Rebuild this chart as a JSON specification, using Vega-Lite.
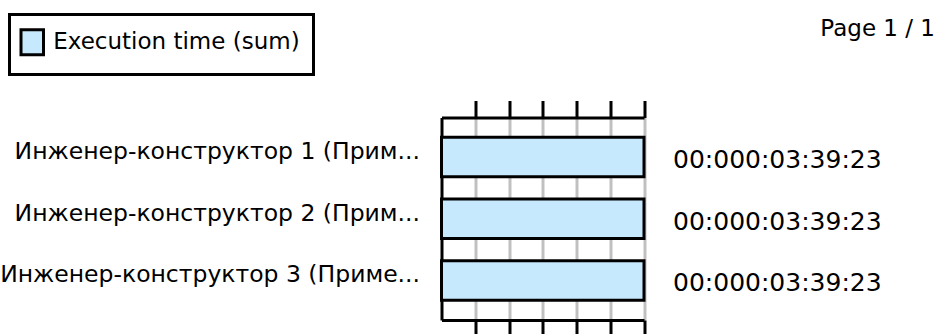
{
  "$schema": "https://vega.github.io/schema/vega-lite/v6.json",
  "width": 202.5,
  "height": 202.5,
  "autosize": "none",
  "padding": {"left": 441.5, "top": 117.5, "right": 299, "bottom": 14},
  "background": "white",
  "title": {
    "text": "Page 1 / 1",
    "anchor": "end",
    "frame": "group",
    "font": "DejaVu Sans",
    "fontSize": 23,
    "fontWeight": "normal",
    "color": "black",
    "dx": 291,
    "dy": 32
  },
  "config": {
    "view": {"stroke": null},
    "font": "DejaVu Sans",
    "legend": {"strokeWidth": 3}
  },
  "data": {
    "values": [
      {"engineer": "Инженер-конструктор 1 (Прим...", "seconds": 219.23, "label": "00:000:03:39:23", "series": "Execution time (sum)"},
      {"engineer": "Инженер-конструктор 2 (Прим...", "seconds": 219.23, "label": "00:000:03:39:23", "series": "Execution time (sum)"},
      {"engineer": "Инженер-конструктор 3 (Приме...", "seconds": 219.23, "label": "00:000:03:39:23", "series": "Execution time (sum)"}
    ]
  },
  "encoding": {
    "y": {
      "field": "engineer",
      "type": "nominal",
      "sort": null,
      "scale": {"paddingInner": 0.36, "paddingOuter": 0.32},
      "axis": {
        "title": null,
        "ticks": false,
        "grid": false,
        "domainColor": "black",
        "domainWidth": 3,
        "labelPadding": 22,
        "labelFont": "DejaVu Sans",
        "labelFontSize": 23.5,
        "labelColor": "black",
        "labelLimit": 0,
        "labelAlign": "right",
        "labelBaseline": "middle",
        "labelOffset": -5
      }
    }
  },
  "layer": [
    {
      "mark": {"type": "bar", "stroke": "black", "strokeWidth": 3},
      "encoding": {
        "x": {
          "field": "seconds",
          "type": "quantitative",
          "scale": {"domain": [0, 219.23], "nice": false},
          "axis": {
            "orient": "bottom",
            "title": null,
            "labels": false,
            "values": [36.538, 73.077, 109.615, 146.153, 182.692, 219.23],
            "domainColor": "black",
            "domainWidth": 3,
            "tickColor": "black",
            "tickWidth": 3,
            "tickSize": 17,
            "grid": true,
            "gridColor": "#C0C0C0",
            "gridWidth": 3
          }
        },
        "fill": {
          "field": "series",
          "type": "nominal",
          "scale": {"range": ["#C6E9FD"]},
          "legend": {
            "orient": "none",
            "legendX": -432,
            "legendY": -103,
            "title": null,
            "symbolType": "M-0.9,-1H0.9V1H-0.9Z",
            "symbolSize": 625,
            "symbolStrokeColor": "black",
            "symbolStrokeWidth": 3,
            "symbolOffset": -5,
            "symbolOpacity": 1,
            "labelFont": "DejaVu Sans",
            "labelFontSize": 23,
            "labelColor": "black",
            "labelOffset": 7,
            "labelLimit": 0,
            "padding": 13.75,
            "strokeColor": "black"
          }
        }
      }
    },
    {
      "mark": {"type": "text", "align": "left", "baseline": "middle", "dx": 29, "dy": 3, "font": "DejaVu Sans", "fontSize": 25, "color": "black"},
      "encoding": {
        "x": {
          "field": "seconds",
          "type": "quantitative",
          "scale": {"domain": [0, 219.23], "nice": false},
          "axis": {
            "orient": "top",
            "title": null,
            "labels": false,
            "values": [36.538, 73.077, 109.615, 146.153, 182.692, 219.23],
            "domainColor": "black",
            "domainWidth": 3,
            "tickColor": "black",
            "tickWidth": 3,
            "tickSize": 17,
            "grid": false
          }
        },
        "text": {"field": "label"}
      }
    }
  ],
  "resolve": {"axis": {"x": "independent"}}
}
